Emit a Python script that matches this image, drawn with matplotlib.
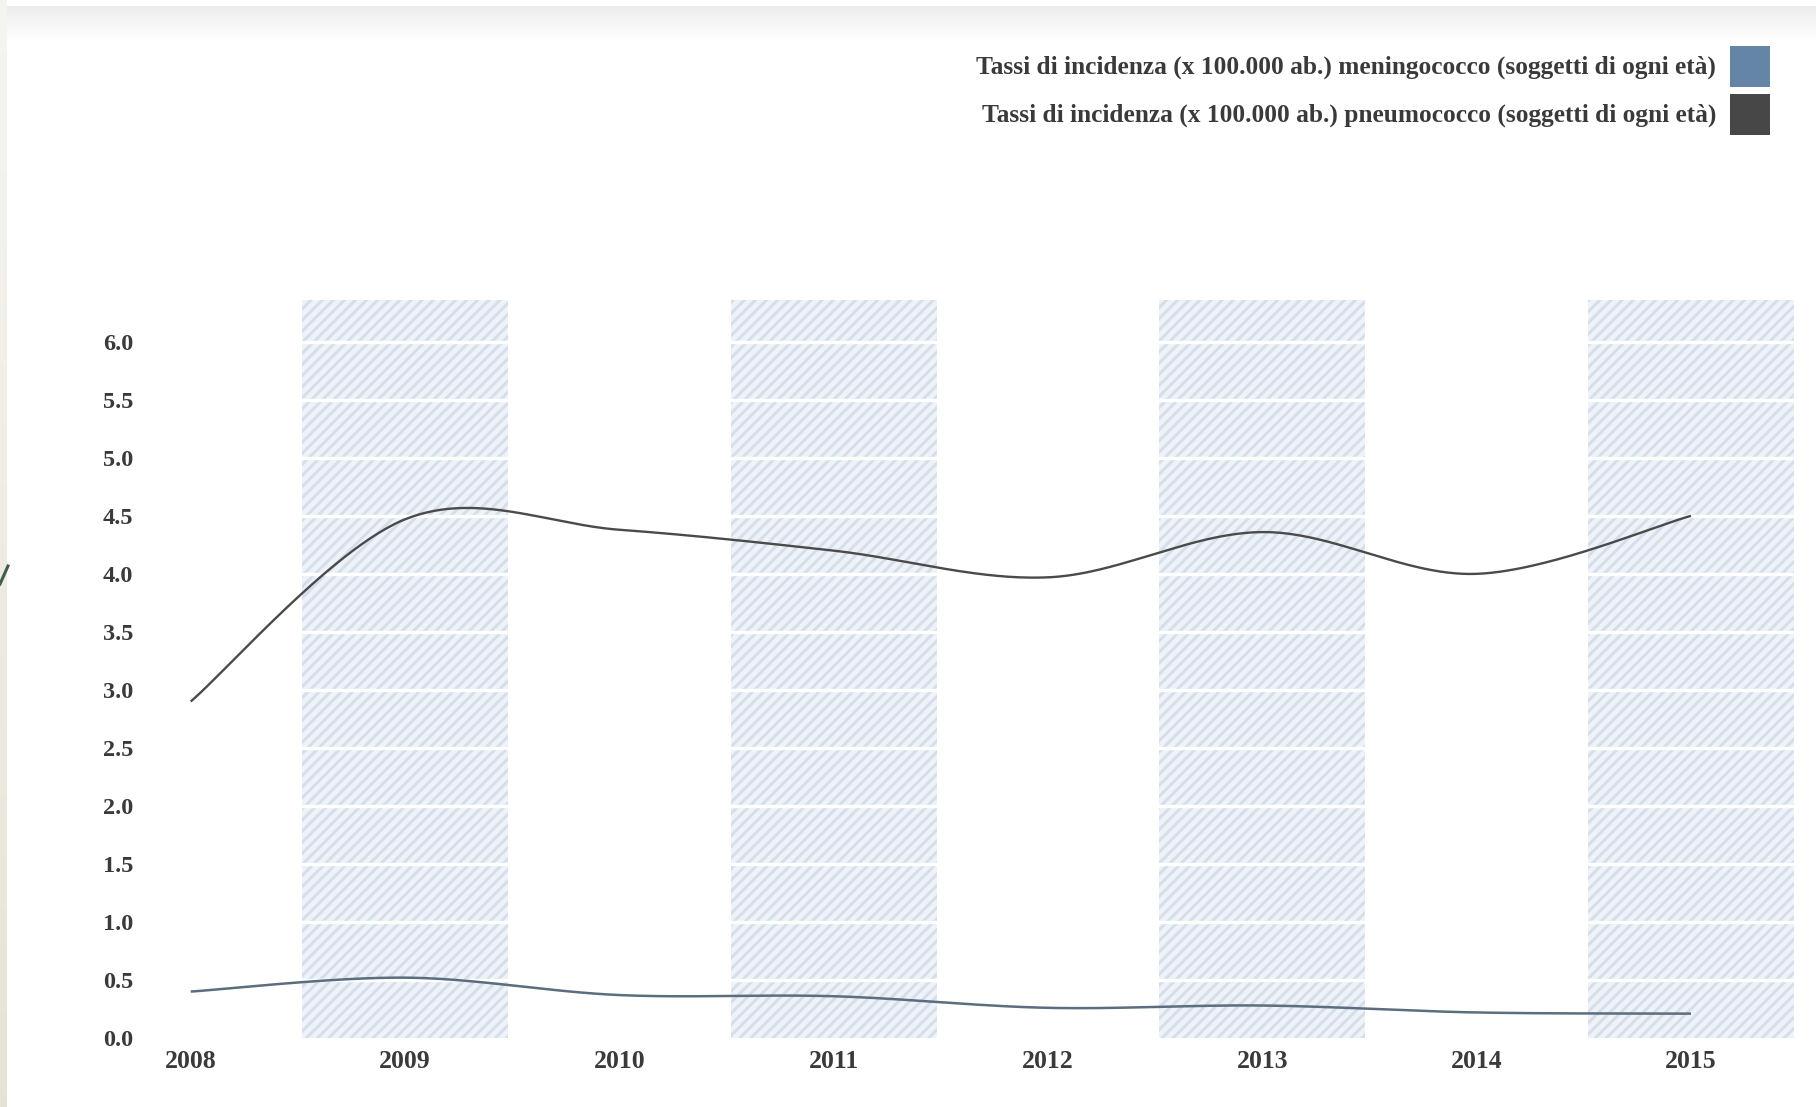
import numpy as np
import matplotlib
matplotlib.use("Agg")
import matplotlib.pyplot as plt
from matplotlib.patches import Rectangle
from matplotlib.lines import Line2D

plt.rcParams['font.family'] = ['Liberation Serif', 'DejaVu Serif']
plt.rcParams['hatch.linewidth'] = 2.2

# ---- data -------------------------------------------------------------
years = [2008, 2009, 2010, 2011, 2012, 2013, 2014, 2015]
meningococco = [0.40, 0.52, 0.37, 0.36, 0.26, 0.28, 0.22, 0.21]
pneumococco = [2.90, 4.47, 4.38, 4.20, 3.97, 4.36, 4.00, 4.50]
shaded_years = [2009, 2011, 2013, 2015]
y_ticks = [0.0, 0.5, 1.0, 1.5, 2.0, 2.5, 3.0, 3.5, 4.0, 4.5, 5.0, 5.5, 6.0]
legend_labels = [
    "Tassi di incidenza (x 100.000 ab.) meningococco (soggetti di ogni età)",
    "Tassi di incidenza (x 100.000 ab.) pneumococco (soggetti di ogni età)",
]
legend_colors = ["#6585a6", "#474747"]
line_colors = ["#5c6d7d", "#4a4a4a"]


def cardinal_curve(xs, ys, samples=60):
    """Catmull-Rom (cardinal, tension 0) curve through the points,
    with the end points duplicated like d3.curveCardinal."""
    pts = np.column_stack([np.asarray(xs, float), np.asarray(ys, float)])
    padded = np.vstack([pts[0], pts, pts[-1]])
    out = []
    t = np.linspace(0, 1, samples)[:, None]
    for i in range(len(pts) - 1):
        p0, p1, p2, p3 = padded[i], padded[i + 1], padded[i + 2], padded[i + 3]
        c1 = p1 + (p2 - p0) / 6.0
        c2 = p2 - (p3 - p1) / 6.0
        seg = ((1 - t) ** 3) * p1 + 3 * ((1 - t) ** 2) * t * c1 \
            + 3 * (1 - t) * t ** 2 * c2 + t ** 3 * p2
        out.append(seg if i == 0 else seg[1:])
    curve = np.vstack(out)
    return curve[:, 0], curve[:, 1]


W, H = 1816, 1107
fig = plt.figure(figsize=(W / 100, H / 100), dpi=100)
fig.patch.set_facecolor("white")

# page decorations: grey strip along the top, beige strip on the left
top = fig.add_axes([0, 1 - 40 / H, 1, 34 / H])
grad = np.linspace(0, 1, 64)[:, None]
top.imshow(np.dstack([0.925 + 0.075 * grad] * 3) * np.ones((1, 4, 1)),
           aspect="auto", extent=[0, 1, 0, 1])
top.axis("off")
left = fig.add_axes([0, 0, 7 / W, 1])
lg = np.linspace(0, 1, 128)[:, None]
c_top = np.array([0.965, 0.960, 0.945])
c_bot = np.array([0.905, 0.890, 0.835])
left.imshow((c_top * (1 - lg)[:, :, None] + c_bot * lg[:, :, None]) * np.ones((1, 2, 1)),
            aspect="auto", extent=[0, 1, 0, 1])
left.axis("off")
fig.add_artist(Line2D([0, 8 / W], [1 - 584 / H, 1 - 566 / H], transform=fig.transFigure,
                      color="#3f5f4c", lw=2.2))

# main plot area
ax_l, ax_r = 150, 1796
ax_top, ax_bot = 300, 1038
ax = fig.add_axes([ax_l / W, 1 - ax_bot / H, (ax_r - ax_l) / W, (ax_bot - ax_top) / H])
ax.set_xlim(2007.81, 2015.49)
ax.set_ylim(0, 6.36)
for s in ax.spines.values():
    s.set_visible(False)

for yr in shaded_years:
    ax.axvspan(yr - 0.48, yr + 0.48, facecolor="#eef3f9", edgecolor="#d6dfe9",
               hatch="///", linewidth=0, zorder=1)

for v in y_ticks[1:]:
    ax.axhline(v, color="white", lw=2.4, zorder=2)

for vals, col, lw in zip([meningococco, pneumococco], line_colors, [1.8, 1.7]):
    cx, cy = cardinal_curve(years, vals)
    ax.plot(cx, cy, color=col, lw=lw, zorder=3, solid_capstyle="butt")

ax.set_xticks(years)
ax.set_xticklabels([str(y) for y in years], fontsize=18.5, fontweight="bold", color="#3a3a3a")
ax.set_yticks(y_ticks)
ax.set_yticklabels([f"{v:.1f}" for v in y_ticks], fontsize=17.5, fontweight="bold", color="#3a3a3a")
ax.tick_params(axis="both", length=0)
ax.tick_params(axis="x", pad=9)
ax.tick_params(axis="y", pad=12)

# legend at the top right: label text followed by a colour square
for i, (lab, col) in enumerate(zip(legend_labels, legend_colors)):
    y0 = 46 + i * 48
    fig.add_artist(Rectangle((1730 / W, 1 - (y0 + 41) / H), 40 / W, 41 / H,
                             transform=fig.transFigure, facecolor=col, edgecolor="none"))
    fig.text(1716 / W, 1 - (y0 + 21) / H, lab, ha="right", va="center",
             fontsize=18.3, fontweight="bold", color="#3a3a3a")

fig.savefig("out.png", dpi=100)
